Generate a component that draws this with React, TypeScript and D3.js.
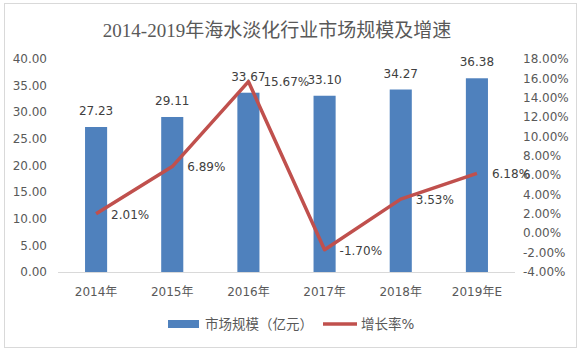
import React, { useEffect, useRef } from "react";
import * as d3 from "d3";

const title = "2014-2019年海水淡化行业市场规模及增速";
const years = ["2014年", "2015年", "2016年", "2017年", "2018年", "2019年E"];
const marketSize = [27.23, 29.11, 33.67, 33.1, 34.27, 36.38];
const growthRate = [2.01, 6.89, 15.67, -1.7, 3.53, 6.18];
const leftTicks = [0, 5, 10, 15, 20, 25, 30, 35, 40];
const rightTicks = [-4, -2, 0, 2, 4, 6, 8, 10, 12, 14, 16, 18];
const legendBar = "市场规模（亿元）";
const legendLine = "增长率%";

const W = 581;
const H = 352;
const FONT = "'DejaVu Sans', 'Noto Sans CJK SC', sans-serif";

const App = () => {
    const svgRef = useRef<SVGSVGElement | null>(null);

    useEffect(() => {
        const svg = d3.select(svgRef.current);
        svg.selectAll("*").remove();

        const margin = { top: 59, bottom: 80, left: 58, right: 66 };
        const x = d3.scaleBand()
            .domain(years)
            .range([margin.left, W - margin.right])
            .paddingInner(0.71)
            .paddingOuter(0.355);
        const yL = d3.scaleLinear().domain([0, 40]).range([H - margin.bottom, margin.top]);
        const yR = d3.scaleLinear().domain([-4, 18]).range([H - margin.bottom, margin.top]);
        const cx = (d) => x(d) + x.bandwidth() / 2;

        // outer border
        svg.append("rect")
            .attr("x", 4.5).attr("y", 3.5)
            .attr("width", 572).attr("height", 344)
            .attr("fill", "#fff")
            .attr("stroke", "#d9d9d9");

        // title
        svg.append("text")
            .attr("x", 277).attr("y", 37)
            .attr("text-anchor", "middle")
            .attr("fill", "#595959")
            .style("font-family", "'Liberation Serif', 'Noto Sans CJK SC', serif")
            .style("font-size", "19px")
            .text(title);

        // left axis labels
        svg.append("g").selectAll("text")
            .data(leftTicks)
            .join("text")
            .attr("x", 47)
            .attr("y", d => yL(d))
            .attr("dy", "0.35em")
            .attr("text-anchor", "end")
            .attr("fill", "#595959")
            .style("font-family", FONT)
            .style("font-size", "12px")
            .text(d => d.toFixed(2));

        // right axis labels
        svg.append("g").selectAll("text")
            .data(rightTicks)
            .join("text")
            .attr("x", 523)
            .attr("y", d => yR(d))
            .attr("dy", "0.35em")
            .attr("fill", "#595959")
            .style("font-family", FONT)
            .style("font-size", "12px")
            .text(d => d.toFixed(2) + "%");

        // x axis line
        svg.append("line")
            .attr("x1", margin.left).attr("x2", W - margin.right)
            .attr("y1", yL(0) + 0.5).attr("y2", yL(0) + 0.5)
            .attr("stroke", "#d9d9d9");

        // x labels
        svg.append("g").selectAll("text")
            .data(years)
            .join("text")
            .attr("x", d => cx(d))
            .attr("y", 296)
            .attr("text-anchor", "middle")
            .attr("fill", "#595959")
            .style("font-family", FONT)
            .style("font-size", "12px")
            .text(d => d);

        // bars
        svg.append("g").selectAll("rect")
            .data(marketSize)
            .join("rect")
            .attr("x", (d, i) => x(years[i]))
            .attr("y", d => yL(d))
            .attr("width", x.bandwidth())
            .attr("height", d => yL(0) - yL(d))
            .attr("fill", "#4f81bd");

        // bar labels
        svg.append("g").selectAll("text")
            .data(marketSize)
            .join("text")
            .attr("x", (d, i) => cx(years[i]))
            .attr("y", d => yL(d) - 12)
            .attr("text-anchor", "middle")
            .attr("fill", "#404040")
            .style("font-family", FONT)
            .style("font-size", "12px")
            .text(d => d.toFixed(2));

        // growth line
        const line = d3.line<number>()
            .x((d, i) => cx(years[i]))
            .y(d => yR(d));
        svg.append("path")
            .datum(growthRate)
            .attr("d", line)
            .attr("fill", "none")
            .attr("stroke", "#c0504d")
            .attr("stroke-width", 3.5)
            .attr("stroke-linejoin", "round");

        // line labels
        svg.append("g").selectAll("text")
            .data(growthRate)
            .join("text")
            .attr("x", (d, i) => cx(years[i]) + 15)
            .attr("y", d => yR(d))
            .attr("dy", "0.4em")
            .attr("fill", "#404040")
            .style("font-family", FONT)
            .style("font-size", "12px")
            .text(d => d.toFixed(2) + "%");

        // legend
        const lg = svg.append("g");
        lg.append("rect")
            .attr("x", 168).attr("y", 320)
            .attr("width", 31).attr("height", 8)
            .attr("fill", "#4f81bd");
        lg.append("text")
            .attr("x", 205).attr("y", 324)
            .attr("dy", "0.35em")
            .attr("fill", "#595959")
            .style("font-family", FONT)
            .style("font-size", "13.5px")
            .text(legendBar);
        lg.append("line")
            .attr("x1", 323).attr("x2", 357)
            .attr("y1", 324).attr("y2", 324)
            .attr("stroke", "#c0504d")
            .attr("stroke-width", 3.5);
        lg.append("text")
            .attr("x", 361).attr("y", 324)
            .attr("dy", "0.35em")
            .attr("fill", "#595959")
            .style("font-family", FONT)
            .style("font-size", "13.5px")
            .text(legendLine);
    }, []);

    return (
        <svg
            ref={svgRef}
            width={W}
            height={H}
            style={{ position: "absolute", left: 0, top: 0, background: "#fff" }}
        />
    );
};

export default App;
